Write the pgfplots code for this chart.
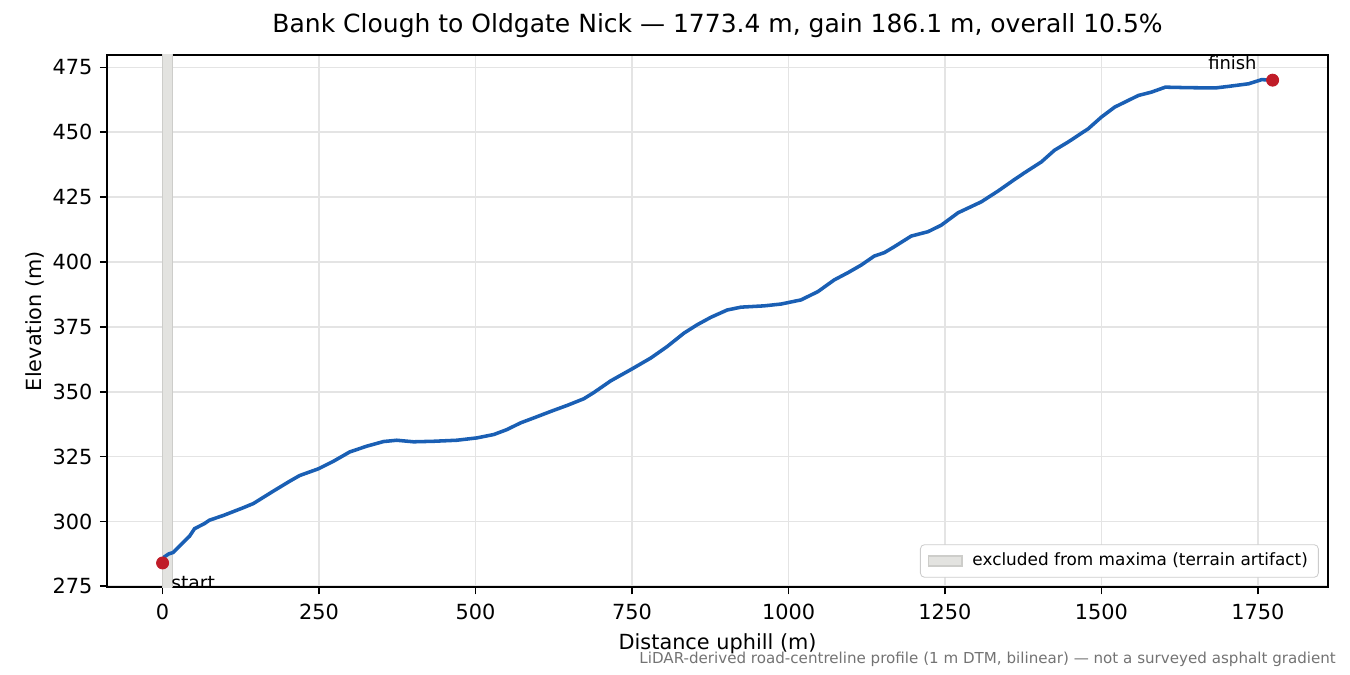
\documentclass[border=0pt]{standalone}
\usepackage{fontspec}
\setmainfont{DejaVu Sans}
\usepackage{pgfplots}
\pgfplotsset{compat=1.18}
\usepackage{pgfplotstable}

\definecolor{profile}{HTML}{1A5FB4}
\definecolor{marker}{HTML}{C01C28}
\definecolor{spanfill}{RGB}{227,227,224}
\definecolor{spanedge}{RGB}{205,205,202}
\definecolor{gridc}{RGB}{228,228,228}

% distance (m), elevation (m)
\pgfplotstableread{
d e
0 284.0
3 286.4
10 287.5
16.5 288
24.5 289.9
43 294.3
51 297.2
59 298.2
67 299.2
75 300.5
97 302.3
129 305.3
145 306.9
177 311.7
203 315.5
219 317.7
249 320.3
273 323.2
299 326.8
326 329
353 330.8
374 331.3
401 330.7
433 330.9
470 331.3
502 332.2
529 333.5
550 335.4
572 338
593 339.9
620 342.4
646 344.7
673 347.3
689 349.7
716 354.2
750 358.8
780 363
806 367.4
833 372.6
854 375.8
876 378.7
902 381.5
924 382.6
961 383.1
988 383.8
998 384.3
1020 385.4
1047 388.6
1073 393.1
1095 395.9
1116 398.8
1137 402.3
1153 403.6
1169 405.9
1196 410
1223 411.7
1244 414.2
1271 419
1308 423.2
1335 427.4
1361 431.8
1377 434.4
1404 438.6
1425 443.1
1447 446.3
1479 451.4
1500 455.9
1521 459.7
1559 464.2
1580 465.5
1602 467.4
1639 467.2
1682 467.1
1703 467.7
1735 468.7
1756 470.3
1773.4 470.1
}\profiledata

\begin{document}
\begin{tikzpicture}
\useasboundingbox (-51.4pt,-42.2pt) rectangle (596.6pt,281.8pt);
\begin{axis}[
    at={(0,0)}, anchor=south west,
    scale only axis,
    width=586.1pt, height=255.4pt,
    xmin=-88.7, xmax=1862.1,
    ymin=274.7, ymax=479.8,
    xtick={0,250,...,1750},
    ytick={275,300,...,475},
    tick pos=left,
    tick align=outside,
    major tick length=3.5pt,
    every tick/.style={black, line width=0.8pt},
    axis line style={line width=0.8pt},
    grid=major,
    grid style={gridc, line width=0.8pt},
    tick label style={
        font=\fontsize{10}{12}\selectfont,
        /pgf/number format/assume math mode=true,
        /pgf/number format/1000 sep={}
    },
    xticklabel style={yshift=-1pt},
    label style={font=\fontsize{10}{12}\selectfont},
    xlabel={Distance uphill (m)},
    ylabel={Elevation (m)},
    ylabel style={xshift=0pt, yshift=-3pt},
    title={Bank Clough to Oldgate Nick — 1773.4 m, gain 186.1 m, overall 10.5\%},
    title style={font=\fontsize{12}{14}\selectfont, yshift=-1pt},
    legend style={
        at={(1,0)}, anchor=south east,
        xshift=-4.5pt, yshift=4.5pt,
        draw=black!20, rounded corners=2pt,
        font=\fontsize{8.1}{10}\selectfont,
        inner xsep=3pt, inner ysep=2pt,
        cells={anchor=west},
        /tikz/every even column/.append style={column sep=0pt}
    },
    legend image code/.code={
        \draw[sharp corners, draw=spanedge, fill=spanfill] (1pt,-2.4pt) rectangle (17pt,2.4pt);
        \path[draw=none, fill=none] (0pt,0pt) -- (20pt,0pt);
    },
    clip=true,
]
\addplot[fill=spanfill, draw=spanedge, line width=0.6pt]
    coordinates {(0,260) (16,260) (16,490) (0,490) (0,260)};
\addlegendentry{excluded from maxima (terrain artifact)}

\addplot[profile, line width=1.7pt, no markers, forget plot] table[x=d, y=e] {\profiledata};

\addplot[only marks, mark=*, mark size=2.9pt, marker, forget plot]
    coordinates {(0,284.0) (1773.4,470.1)};

\node[font=\fontsize{9}{11}\selectfont, anchor=north west, inner sep=0pt]
    at (axis cs:0,284.0) [xshift=4pt, yshift=-6pt] {start};
\node[font=\fontsize{8.6}{11}\selectfont, anchor=south east, inner sep=0pt]
    at (axis cs:1773.4,470.1) [xshift=-7.5pt, yshift=5pt] {finish};
\end{axis}
\node[anchor=base east, font=\fontsize{7.25}{8}\selectfont, text=black!55, inner sep=0pt]
    at (590pt,-36.9pt) {LiDAR-derived road-centreline profile (1 m DTM, bilinear) — not a surveyed asphalt gradient};
\end{tikzpicture}
\end{document}
